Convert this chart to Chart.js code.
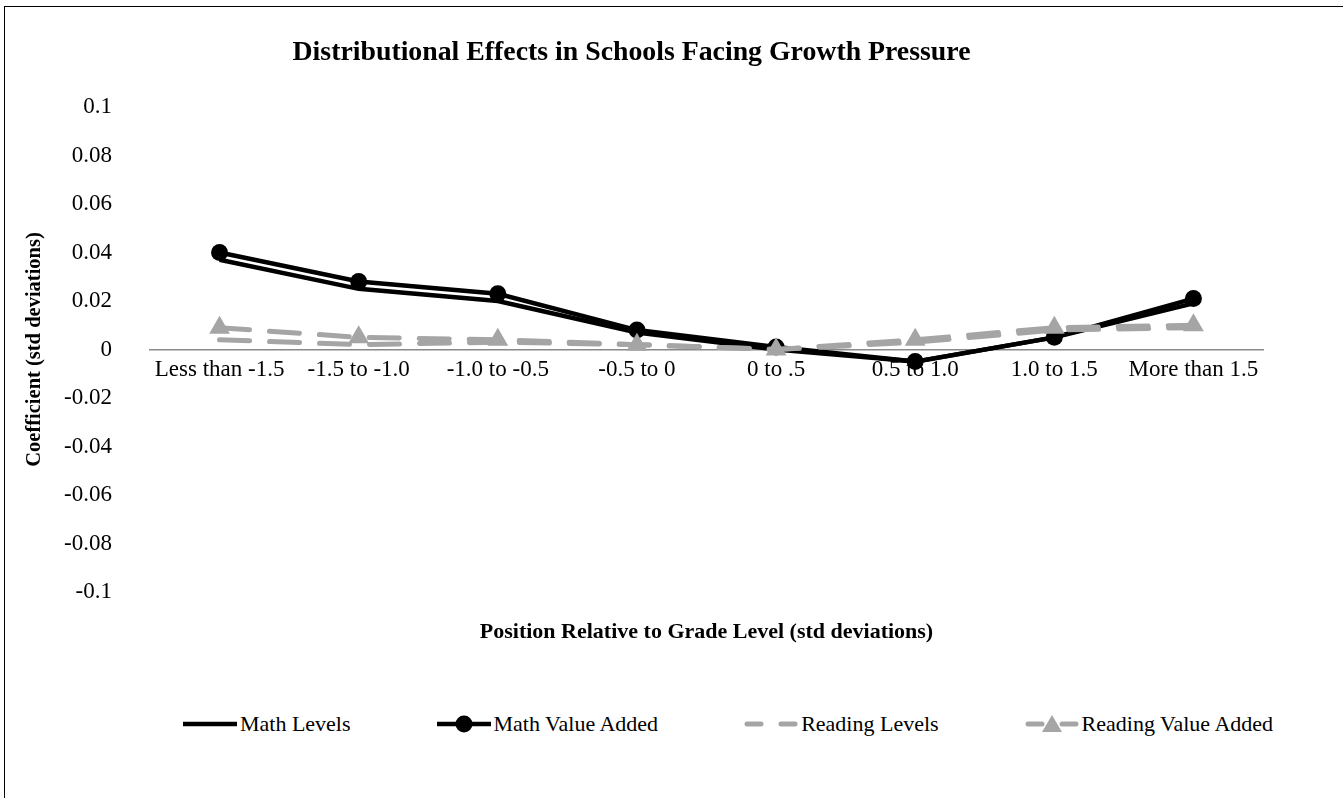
<!DOCTYPE html>
<html>
<head>
<meta charset="utf-8">
<script src="https://cdn.jsdelivr.net/npm/chart.js@4.4.1/dist/chart.umd.min.js"></script>
<style>
  html, body { margin: 0; padding: 0; background: #fff; width: 1343px; height: 798px; overflow: hidden; }
  #frame { position: absolute; left: 4px; top: 6px; width: 1420px; height: 900px; border: 1.5px solid #000; box-sizing: border-box; }
  #wrap { position: absolute; left: 0; top: 0; width: 1343px; height: 660px; }
  #legend { position: absolute; left: 22px; top: 711px; width: 1412px; display: flex; justify-content: center; align-items: center; gap: 86px;
            font-family: "Liberation Serif", "Times New Roman", serif; font-size: 22px; color: #000; }
  #legend .item { display: flex; align-items: center; white-space: nowrap; }
  #legend canvas { display: block; margin-right: 3px; }
</style>
</head>
<body>
<div id="frame"></div>
<div id="wrap"><canvas id="chart" width="1343" height="660"></canvas></div>
<div id="legend"></div>
<script>
// Score bands relative to grade level
const categories = ['Less than -1.5', '-1.5 to -1.0', '-1.0 to -0.5', '-0.5 to 0', '0 to .5', '0.5 to 1.0', '1.0 to 1.5', 'More than 1.5'];

// Coefficients (std deviations) per band
const mathLevels        = [0.037, 0.025, 0.020, 0.007, 0.000, -0.005, 0.005, 0.019];
const mathValueAdded    = [0.040, 0.028, 0.023, 0.008, 0.001, -0.005, 0.005, 0.021];
const readingLevels     = [0.004, 0.002, 0.003, 0.002, 0.000, 0.003, 0.008, 0.009];
const readingValueAdded = [0.009, 0.005, 0.004, 0.002, 0.000, 0.004, 0.009, 0.010];

// Value axis range
const yMin = -0.1;
const yMax = 0.1;
const yStep = 0.02;

const SERIF = '"Liberation Serif", "Times New Roman", serif';
const GRAY = '#A5A5A5';

const datasets = [
  { label: 'Math Levels', data: mathLevels, borderColor: '#000', backgroundColor: '#000',
    borderWidth: 4.5, pointRadius: 0, order: 3, legendMarker: null },
  { label: 'Math Value Added', data: mathValueAdded, borderColor: '#000', backgroundColor: '#000',
    borderWidth: 4.5, pointStyle: 'circle', pointRadius: 8.5, pointBorderWidth: 0, order: 2, legendMarker: 'circle' },
  { label: 'Reading Levels', data: readingLevels, borderColor: GRAY, backgroundColor: GRAY,
    borderWidth: 5, borderDash: [30, 20], borderCapStyle: 'round', pointRadius: 0, order: 1, legendMarker: null },
  { label: 'Reading Value Added', data: readingValueAdded, borderColor: GRAY, backgroundColor: GRAY,
    borderWidth: 5, borderDash: [30, 20], borderCapStyle: 'round', pointStyle: 'triangle', pointRadius: 12,
    pointBorderWidth: 0, order: 0, legendMarker: 'triangle' }
];

// Builds the legend row below the canvas from the chart's datasets
const htmlLegend = {
  id: 'htmlLegend',
  afterUpdate(chart) {
    const box = document.getElementById('legend');
    box.innerHTML = '';
    chart.data.datasets.forEach(ds => {
      const item = document.createElement('div');
      item.className = 'item';
      const icon = document.createElement('canvas');
      icon.width = 54; icon.height = 22;
      const c = icon.getContext('2d');
      c.strokeStyle = ds.borderColor;
      c.lineWidth = ds.borderWidth;
      c.lineCap = ds.borderDash ? 'round' : 'butt';
      if (ds.borderDash) {
        c.beginPath(); c.moveTo(3, 11); c.lineTo(17, 11); c.stroke();
        c.beginPath(); c.moveTo(37, 11); c.lineTo(51, 11); c.stroke();
      } else {
        c.beginPath(); c.moveTo(0, 11); c.lineTo(54, 11); c.stroke();
      }
      c.fillStyle = ds.backgroundColor;
      if (ds.legendMarker === 'circle') {
        c.beginPath(); c.arc(27, 11, 8.5, 0, Math.PI * 2); c.fill();
      } else if (ds.legendMarker === 'triangle') {
        c.beginPath(); c.moveTo(27, 2); c.lineTo(37, 19); c.lineTo(17, 19); c.closePath(); c.fill();
      }
      const text = document.createElement('span');
      text.textContent = ds.label;
      item.appendChild(icon);
      item.appendChild(text);
      box.appendChild(item);
    });
  }
};

new Chart(document.getElementById('chart'), {
  type: 'line',
  data: { labels: categories, datasets: datasets },
  plugins: [htmlLegend],
  options: {
    responsive: false,
    devicePixelRatio: 1,
    animation: false,
    layout: { padding: { left: 0, right: 80, top: 0, bottom: 14.8 } },
    elements: { line: { tension: 0 } },
    plugins: {
      legend: { display: false },
      tooltip: { enabled: false },
      title: {
        display: true,
        text: 'Distributional Effects in Schools Facing Growth Pressure',
        color: '#000',
        font: { family: SERIF, size: 27.8, weight: 'bold' },
        padding: { top: 36.3, bottom: 37.3 }
      }
    },
    scales: {
      x: {
        type: 'category',
        position: { y: 0 },
        offset: true,
        grid: { display: false, drawTicks: false },
        border: { display: true, color: '#898989', width: 1.5 },
        ticks: { color: '#000', font: { family: SERIF, size: 23 }, padding: 6.7, maxRotation: 0, autoSkip: false }
      },
      x2: {
        type: 'category',
        position: 'bottom',
        offset: true,
        grid: { display: false, drawTicks: false },
        border: { display: false },
        ticks: { display: false },
        title: {
          display: true,
          text: 'Position Relative to Grade Level (std deviations)',
          color: '#000',
          font: { family: SERIF, size: 22, weight: 'bold' },
          padding: { top: 26.8, bottom: 0 }
        }
      },
      y: {
        min: yMin,
        max: yMax,
        afterFit(scale) { scale.width = 150; },
        grid: { display: false, drawTicks: false },
        border: { display: false },
        ticks: {
          stepSize: yStep,
          color: '#000',
          padding: 38,
          font: { family: SERIF, size: 23 },
          callback: v => String(Number(v.toFixed(2)))
        },
        title: {
          display: true,
          text: 'Coefficient (std deviations)',
          color: '#000',
          font: { family: SERIF, size: 20.5, weight: 'bold' },
          padding: { top: 22.7, bottom: 0 }
        }
      }
    }
  }
});
</script>
</body>
</html>
